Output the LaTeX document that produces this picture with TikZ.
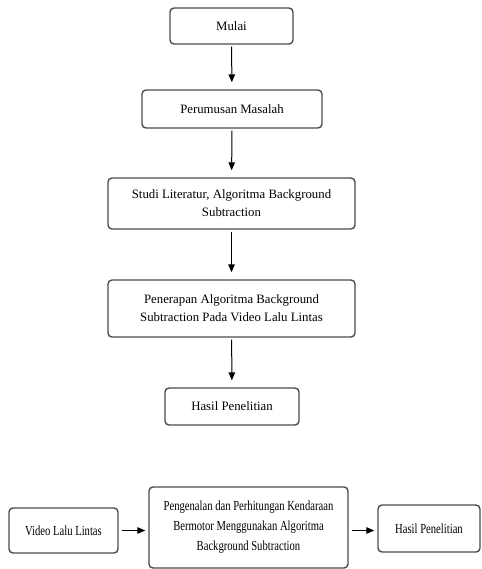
\documentclass[tikz,border=0pt]{standalone}
\usepackage{fontspec}
\setmainfont{Liberation Serif}
\newfontfamily\narrowserif[FakeStretch=0.77]{Liberation Serif}
\usetikzlibrary{arrows.meta}
\definecolor{box_gray}{RGB}{75,75,75}

\begin{document}
\begin{tikzpicture}[x=1pt,y=-1pt]
    % Define box and arrow styles
    \tikzset{stage/.style={draw=box_gray,line width=1.4pt,rounded corners=4pt,align=center,
                           inner sep=0pt,font=\fontsize{12.8}{18}\selectfont},
             flowbox/.style={stage,font=\narrowserif\fontsize{13.8}{20}\selectfont},
             flow/.style={-{Triangle[width=6.5pt,length=8pt]},line width=1pt,shorten <=2pt,shorten >=7pt}}

    \useasboundingbox (0,0) rectangle (481,569); % Fix page size

    % Research steps
    \node[stage,minimum width=123,minimum height=36] (mulai) at (231.5,26) {Mulai};
    \node[stage,minimum width=180,minimum height=38] (rumusan) at (232,109) {Perumusan Masalah};
    \node[stage,minimum width=247,minimum height=51] (studi) at (231.5,203.5)
        {Studi Literatur, Algoritma Background\\Subtraction};
    \node[stage,minimum width=247,minimum height=57] (penerapan) at (231.5,308.5)
        {Penerapan Algoritma Background\\Subtraction Pada Video Lalu Lintas};
    \node[stage,minimum width=134,minimum height=37] (hasil) at (232,406.5) {Hasil Penelitian};

    \draw[flow] (mulai) -- (rumusan);
    \draw[flow] (rumusan) -- (studi);
    \draw[flow] (studi) -- (penerapan);
    \draw[flow] (penerapan) -- (hasil);

    % System overview
    \node[flowbox,minimum width=109,minimum height=45] (video) at (63.5,530.5) {Video Lalu Lintas};
    \node[flowbox,minimum width=199,minimum height=81] (pengenalan) at (248.5,527.5)
        {Pengenalan dan Perhitungan Kendaraan\\Bermotor Menggunakan Algoritma\\Background Subtraction};
    \node[flowbox,minimum width=102,minimum height=47] (hasilsistem) at (429,528.5) {Hasil Penelitian};

    \draw[flow,shorten <=3pt,shorten >=3pt] (video) -- (video -| pengenalan.west);
    \draw[flow,shorten <=3pt,shorten >=3pt] (pengenalan.east |- video) -- (video -| hasilsistem.west);
\end{tikzpicture}
\end{document}
